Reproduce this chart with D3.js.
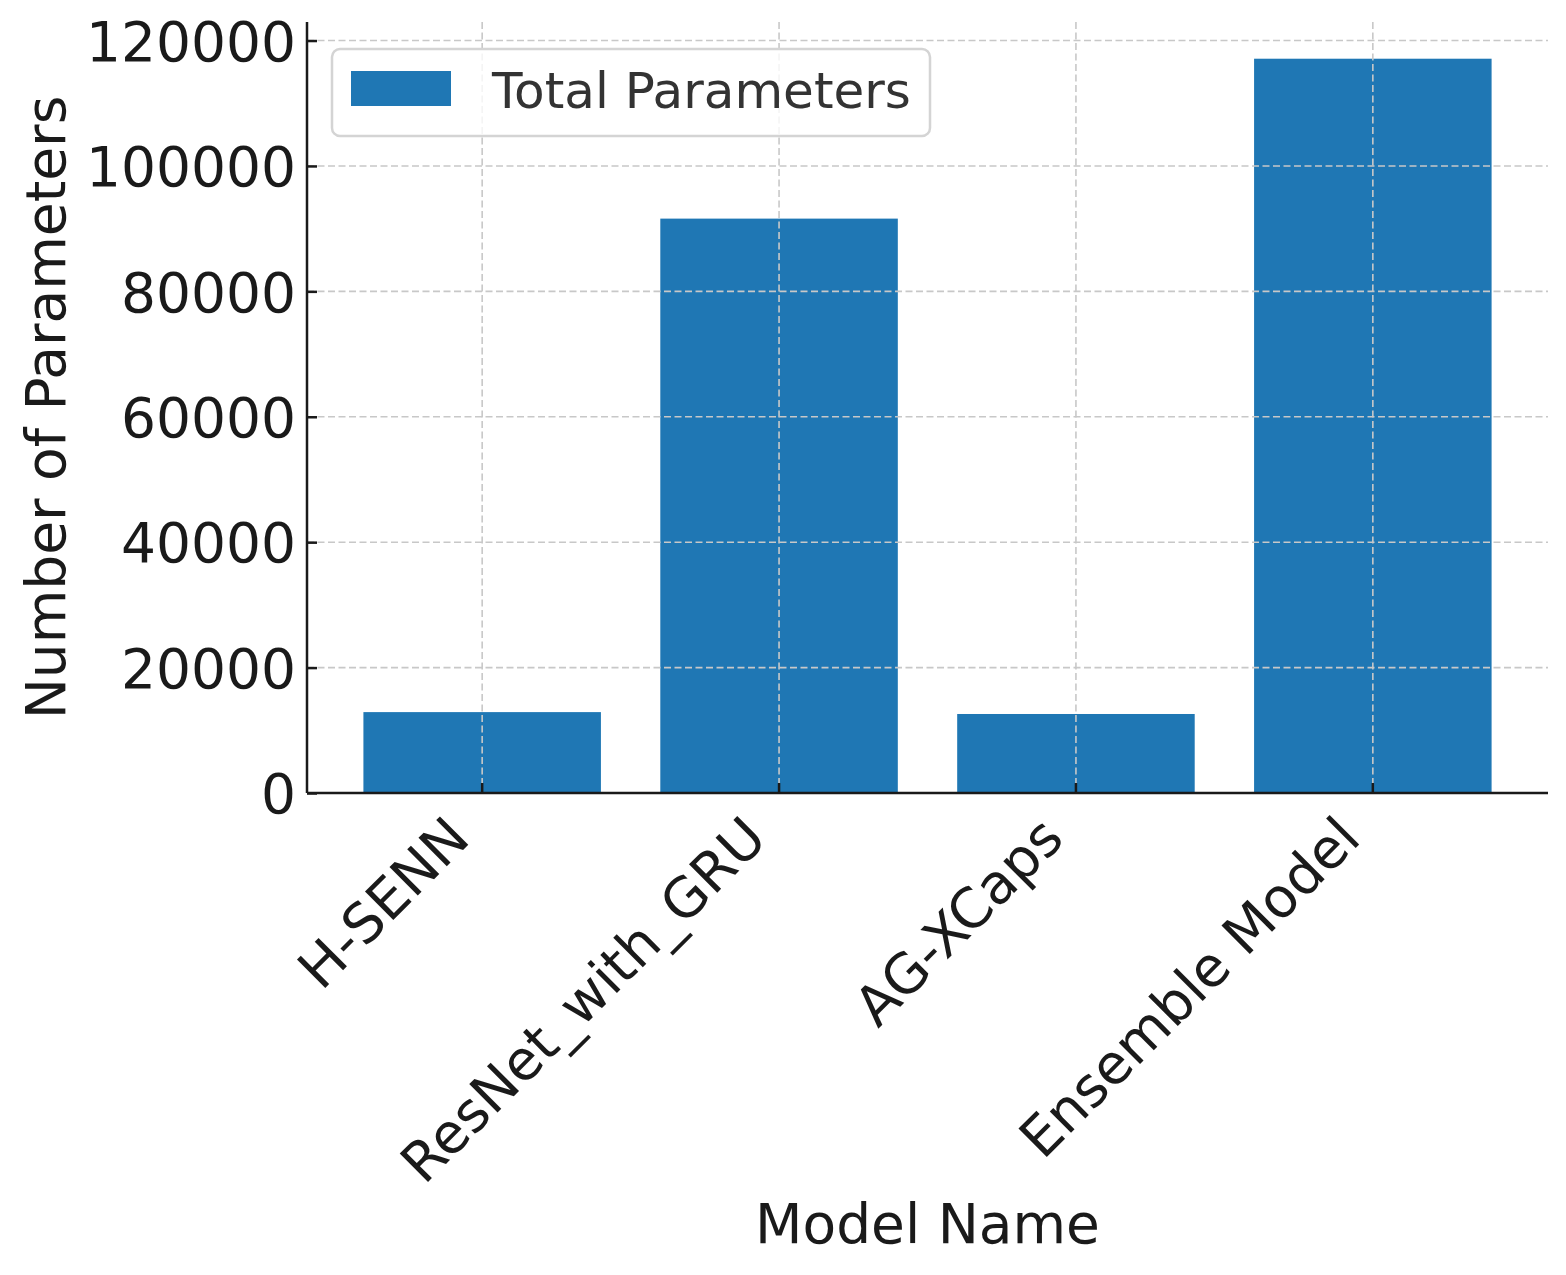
<!DOCTYPE html>
<html>
<head>
<meta charset="utf-8">
<script src="https://cdn.jsdelivr.net/npm/d3@7"></script>
<style>
  html, body { margin: 0; padding: 0; background: #fff; }
  svg { display: block; font-family: "DejaVu Sans", sans-serif; }
</style>
</head>
<body>
<svg id="chart" width="1566" height="1275"></svg>
<script>
const categories = ["H-SENN", "ResNet_with_GRU", "AG-XCaps", "Ensemble Model"];
const totalParameters = [12900, 91600, 12600, 117100];
const yTicks = [0, 20000, 40000, 60000, 80000, 100000, 120000];
const seriesName = "Total Parameters";
const xLabel = "Model Name";
const yLabel = "Number of Parameters";

const W = 1566, H = 1275;
const m = { left: 307, right: 1548, top: 22, bottom: 793 };
const svg = d3.select("#chart");

const x = d3.scaleBand()
  .domain(categories)
  .range([m.left, m.right])
  .paddingInner(0.2)
  .paddingOuter(0.19);

const y = d3.scaleLinear()
  .domain([0, d3.max(totalParameters) * 1.05])
  .range([m.bottom, m.top]);

const data = categories.map((c, i) => ({ c, v: totalParameters[i] }));

// bars
svg.append("g").selectAll("rect").data(data).join("rect")
  .attr("x", d => x(d.c))
  .attr("width", x.bandwidth())
  .attr("y", d => y(d.v))
  .attr("height", d => y(0) - y(d.v))
  .attr("fill", "#1f77b4");

// grid (drawn above bars)
const grid = svg.append("g")
  .attr("stroke", "#c8c8c8")
  .attr("stroke-width", 1.6)
  .attr("stroke-dasharray", "7,3.5");
grid.selectAll("line.h").data(yTicks).join("line")
  .attr("x1", m.left).attr("x2", m.right)
  .attr("y1", d => y(d)).attr("y2", d => y(d));
grid.selectAll("line.v").data(categories).join("line")
  .attr("x1", d => x(d) + x.bandwidth() / 2).attr("x2", d => x(d) + x.bandwidth() / 2)
  .attr("y1", m.top).attr("y2", m.bottom);

// y axis
const yAxis = d3.axisLeft(y).tickValues(yTicks).tickFormat(d3.format("d"))
  .tickSizeInner(-10).tickSizeOuter(0).tickPadding(11);
const gy = svg.append("g").attr("transform", `translate(${m.left},0)`).call(yAxis);
gy.select(".domain").attr("stroke", "#1a1a1a").attr("stroke-width", 2.5)
  .attr("d", `M0,${m.top}V${m.bottom}`);
gy.selectAll(".tick line").attr("stroke", "#1a1a1a").attr("stroke-width", 2.5);
gy.selectAll(".tick text").attr("font-size", 55).attr("fill", "#1a1a1a")
  .attr("font-family", "DejaVu Sans").attr("dy", "0.36em");

// x axis
const xAxis = d3.axisBottom(x).tickSizeInner(-10).tickSizeOuter(0).tickPadding(0);
const gx = svg.append("g").attr("transform", `translate(0,${m.bottom})`).call(xAxis);
gx.select(".domain").attr("stroke", "#1a1a1a").attr("stroke-width", 2.5)
  .attr("d", `M${m.left},0H${m.right}`);
gx.selectAll(".tick line").attr("stroke", "#1a1a1a").attr("stroke-width", 2.5);
gx.selectAll(".tick text")
  .attr("font-size", 55).attr("fill", "#1a1a1a").attr("font-family", "DejaVu Sans")
  .attr("text-anchor", "end")
  .attr("dy", null)
  .attr("y", null)
  .attr("transform", "translate(-10,48) rotate(-45)");

// axis labels
svg.append("text")
  .attr("x", (m.left + m.right) / 2).attr("y", 1243)
  .attr("text-anchor", "middle").attr("font-size", 55).attr("fill", "#1a1a1a")
  .text(xLabel);
svg.append("text")
  .attr("transform", `translate(65,${(m.top + m.bottom) / 2}) rotate(-90)`)
  .attr("text-anchor", "middle").attr("font-size", 55).attr("fill", "#1a1a1a")
  .text(yLabel);

// legend
const lg = svg.append("g");
lg.append("rect")
  .attr("x", 332).attr("y", 49).attr("width", 598).attr("height", 87)
  .attr("rx", 8).attr("ry", 8)
  .attr("fill", "#ffffff").attr("fill-opacity", 0.8)
  .attr("stroke", "#d4d4d4").attr("stroke-width", 2.5);
lg.append("rect")
  .attr("x", 351).attr("y", 71).attr("width", 100).attr("height", 35)
  .attr("fill", "#1f77b4");
lg.append("text")
  .attr("x", 492).attr("y", 108)
  .attr("font-size", 50).attr("fill", "#333333")
  .text(seriesName);
</script>
</body>
</html>
